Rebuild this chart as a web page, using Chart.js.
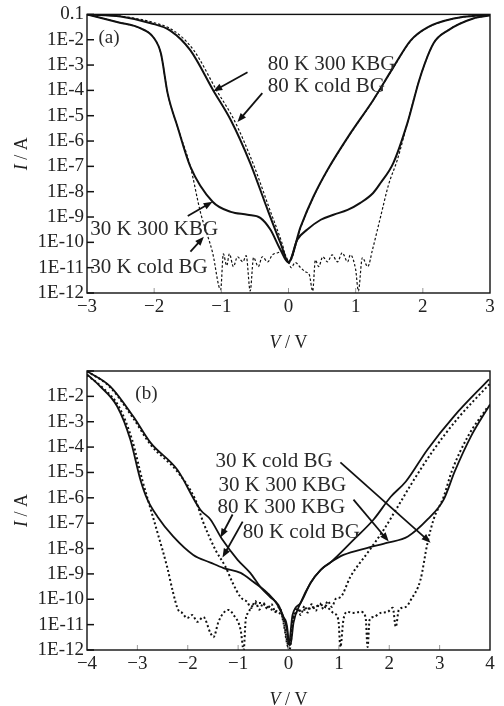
<!DOCTYPE html>
<html>
<head>
<meta charset="utf-8">
<script src="https://cdn.jsdelivr.net/npm/chart.js@4.4.1/dist/chart.umd.min.js"></script>
<style>
  html, body { margin: 0; padding: 0; background: #fff; }
  #wrap { position: relative; width: 504px; height: 706px; }
  canvas { position: absolute; left: 0; }
</style>
</head>
<body>
<div id="wrap">
  <canvas id="chartA" width="504" height="353" style="top:0"></canvas>
  <canvas id="chartB" width="504" height="353" style="top:353px"></canvas>
</div>
<script>
// ---- шкалы ----
const yTicks = [1e-1, 1e-2, 1e-3, 1e-4, 1e-5, 1e-6, 1e-7, 1e-8, 1e-9, 1e-10, 1e-11, 1e-12]
const yTickLabelsA = ["0.1", "1E-2", "1E-3", "1E-4", "1E-5", "1E-6", "1E-7", "1E-8", "1E-9", "1E-10", "1E-11", "1E-12"]
const yTickLabelsB = ["", "1E-2", "1E-3", "1E-4", "1E-5", "1E-6", "1E-7", "1E-8", "1E-9", "1E-10", "1E-11", "1E-12"]
const xTicksA = [-3, -2, -1, 0, 1, 2, 3]
const xTickLabelsA = ["\u22123", "\u22122", "\u22121", "0", "1", "2", "3"]
const xTicksB = [-4, -3, -2, -1, 0, 1, 2, 3, 4]
const xTickLabelsB = ["\u22124", "\u22123", "\u22122", "\u22121", "0", "1", "2", "3", "4"]

// ---- панель (a) ----
const aV80Hot = [-3, -2.5, -2.05, -1.76, -1.46, -1.12, -0.86, -0.57, -0.31, -0.12, 0, 0.18, 0.37, 0.58, 0.92, 1.26, 1.56, 1.82, 2.07, 2.46, 3]
const aI80Hot = [1e-1, 8.3e-2, 4.5e-2, 2.3e-2, 3.8e-3, 1.0e-4, 6.8e-6, 1.35e-7, 1.9e-9, 9.5e-11, 1.7e-11, 4.1e-10, 6.3e-9, 7.2e-8, 2.0e-6, 4.1e-5, 8.1e-4, 9.5e-3, 3.1e-2, 6.9e-2, 1e-1]

const aV80Cold = [-3, -2.5, -2.0, -1.71, -1.41, -1.07, -0.81, -0.53, -0.28, -0.1, 0, 0.18, 0.37, 0.58, 0.92, 1.26, 1.56, 1.82, 2.07, 2.46, 3]
const aI80Cold = [1e-1, 8.5e-2, 4.7e-2, 2.3e-2, 3.8e-3, 1.0e-4, 6.8e-6, 1.35e-7, 2.0e-9, 1.0e-10, 1.5e-11, 3.8e-10, 6.0e-9, 7.0e-8, 1.9e-6, 4.0e-5, 7.8e-4, 9.0e-3, 3.0e-2, 6.8e-2, 1e-1]

const aV30Hot = [-3, -2.54, -2.2, -2.01, -1.9, -1.8, -1.65, -1.46, -1.13, -0.86, -0.61, -0.42, -0.27, -0.12, 0, 0.13, 0.28, 0.48, 0.67, 0.88, 1.07, 1.26, 1.37, 1.56, 1.77, 1.96, 2.16, 2.37, 2.75, 3]
const aI30Hot = [1e-1, 4.9e-2, 2.8e-2, 1.23e-2, 2.9e-3, 7.8e-5, 3.5e-6, 9.5e-8, 4.0e-9, 1.6e-9, 1.23e-9, 9.3e-10, 3.2e-10, 5.1e-11, 1.6e-11, 1.26e-10, 3.2e-10, 7.8e-10, 1.23e-9, 1.9e-9, 3.6e-9, 8.9e-9, 2.2e-8, 1.35e-7, 5.1e-6, 3.3e-4, 7.2e-3, 2.3e-2, 6.9e-2, 9.1e-2]

const aV30Cold = [-3, -2.54, -2.2, -2.01, -1.9, -1.8, -1.65, -1.46, -1.31, -1.13, -1.01, -0.97, -0.92, -0.88, -0.82, -0.76, -0.68, -0.63, -0.57, -0.52, -0.45, -0.39, -0.31, -0.24, -0.16, -0.09, 0, 0.04, 0.1, 0.18, 0.25, 0.31, 0.36, 0.40, 0.45, 0.51, 0.58, 0.65, 0.73, 0.80, 0.88, 0.92, 1.0, 1.04, 1.10, 1.18, 1.25, 1.37, 1.49, 1.62, 1.77, 1.96, 2.16, 2.37, 2.75, 3]
const aI30Cold = [1e-1, 4.9e-2, 2.8e-2, 1.23e-2, 2.9e-3, 7.8e-5, 3.5e-6, 9.5e-8, 1.5e-9, 3.9e-11, 1.35e-12, 3.5e-11, 1.2e-11, 3.5e-11, 1.1e-11, 2.7e-11, 1.7e-11, 3.0e-11, 1.2e-12, 2.5e-11, 1.1e-11, 2.7e-11, 1.7e-11, 3.2e-11, 3.9e-11, 4.3e-11, 1.7e-11, 1.0e-11, 1.6e-11, 1.0e-11, 6.9e-12, 5.2e-12, 1.2e-12, 2.0e-11, 1.1e-11, 2.7e-11, 1.7e-11, 3.2e-11, 1.7e-11, 3.9e-11, 1.7e-11, 3.2e-11, 8.3e-12, 1.2e-12, 2.5e-11, 1.1e-11, 5.1e-11, 1.0e-9, 1.9e-8, 1.8e-7, 5.1e-6, 3.3e-4, 7.2e-3, 2.3e-2, 6.9e-2, 9.1e-2]

// ---- панель (b) ----
const bV80Hot = [-4, -3.54, -3.08, -2.74, -2.21, -1.75, -1.55, -1.31, -1.01, -0.76, -0.56, -0.36, -0.2, -0.1, -0.02, 0, 0.08, 0.24, 0.44, 0.64, 0.83, 1.29, 1.69, 2.03, 2.33, 2.76, 3.28, 3.98]
const bI80Hot = [9.8e-2, 2.5e-2, 1.6e-3, 1.5e-4, 1.3e-5, 3.4e-7, 1.4e-7, 2.2e-8, 3.6e-9, 1.1e-9, 3.1e-10, 1.2e-10, 6.0e-11, 2.0e-11, 6.2e-12, 1.3e-12, 2.4e-11, 7.2e-11, 4.5e-10, 1.45e-9, 2.8e-9, 2.2e-8, 1.4e-7, 1.1e-6, 4.4e-6, 8.1e-5, 1.6e-3, 4.7e-2]

const bV80Cold = [-4, -3.54, -3.08, -2.74, -2.21, -1.85, -1.69, -1.45, -1.25, -1.11, -0.95, -0.82, -0.74, -0.66, -0.58, -0.5, -0.42, -0.34, -0.26, -0.18, -0.1, 0, 0.1, 0.18, 0.24, 0.32, 0.38, 0.46, 0.54, 0.62, 0.7, 0.78, 0.86, 0.94, 1.03, 1.23, 1.57, 1.89, 2.17, 2.43, 2.86, 3.36, 4.0]
const bI80Cold = [9.8e-2, 2.3e-2, 1.35e-3, 1.26e-4, 1.1e-5, 8.5e-7, 1.05e-7, 8.9e-9, 1.9e-9, 4.5e-10, 1.2e-10, 7.9e-11, 4.5e-11, 8.5e-11, 3.9e-11, 7.2e-11, 4.2e-11, 6.5e-11, 3.2e-11, 5.0e-11, 1.2e-11, 1.3e-12, 2.0e-11, 4.5e-11, 2.4e-11, 5.5e-11, 3.0e-11, 6.3e-11, 3.5e-11, 7.0e-11, 4.0e-11, 8.5e-11, 5.0e-11, 1.05e-10, 1.2e-10, 7.8e-10, 6.8e-9, 5.5e-8, 4.5e-7, 3.3e-6, 6.8e-5, 1.35e-3, 3.2e-2]

const bV30Hot = [-4, -3.74, -3.40, -3.14, -2.94, -2.80, -2.60, -2.29, -1.89, -1.55, -1.29, -0.95, -0.70, -0.42, -0.22, -0.06, 0.04, 0.10, 0.24, 0.44, 0.64, 0.83, 1.09, 1.57, 1.97, 2.37, 2.76, 3.08, 3.30, 3.62, 4.0]
const bI30Hot = [7.4e-2, 2.5e-2, 4.0e-3, 2.0e-4, 5.2e-6, 8.5e-7, 1.8e-7, 3.0e-8, 5.6e-9, 2.8e-9, 1.7e-9, 1.1e-9, 4.9e-10, 1.8e-10, 6.0e-11, 1.2e-11, 1.6e-12, 1.2e-11, 7.2e-11, 4.5e-10, 1.45e-9, 2.8e-9, 5.6e-9, 1.07e-8, 1.7e-8, 3.0e-8, 1.4e-7, 8.5e-7, 1.1e-5, 2.6e-4, 4.8e-3]

const bV30Cold = [-4, -3.70, -3.36, -3.10, -2.90, -2.78, -2.60, -2.41, -2.29, -2.19, -2.11, -2.01, -1.91, -1.81, -1.69, -1.55, -1.49, -1.39, -1.29, -1.19, -1.09, -0.95, -0.89, -0.85, -0.80, -0.70, -0.56, -0.42, -0.26, -0.12, -0.02, 0.02, 0.10, 0.30, 0.50, 0.70, 0.89, 0.99, 1.03, 1.09, 1.17, 1.29, 1.43, 1.53, 1.57, 1.61, 1.69, 1.83, 1.97, 2.07, 2.13, 2.19, 2.33, 2.43, 2.62, 2.76, 2.88, 3.08, 3.24, 3.56, 3.96]
const bI30Cold = [6.8e-2, 2.3e-2, 3.7e-3, 1.8e-4, 4.8e-6, 7.1e-7, 4.2e-8, 1.9e-9, 1.8e-10, 3.8e-11, 2.9e-11, 1.8e-11, 2.4e-11, 1.3e-11, 2.0e-11, 4.7e-12, 3.2e-12, 1.3e-11, 2.9e-11, 3.8e-11, 2.4e-11, 6.2e-12, 1.0e-12, 1.55e-11, 2.9e-11, 6.0e-11, 7.2e-11, 5.0e-11, 3.2e-11, 2.0e-11, 1.9e-12, 1.0e-12, 2.0e-11, 3.8e-11, 5.0e-11, 6.0e-11, 2.9e-11, 1.55e-11, 1.3e-12, 1.55e-11, 3.2e-11, 2.9e-11, 3.2e-11, 2.0e-11, 1.3e-12, 1.55e-11, 2.0e-11, 2.9e-11, 3.2e-11, 4.6e-11, 8.1e-12, 3.8e-11, 5.0e-11, 9.5e-11, 5.9e-10, 1.7e-8, 1.4e-7, 1.1e-6, 1.1e-5, 2.6e-4, 4.0e-3]

// подписи и стрелки (в координатах данных)
const notesA = {
  panel: { text: "(a)", x: -2.83, y: 7.2e-3 },
  labels: [
    { text: "80 K 300 KBG", x: -0.31, y: 6.3e-4 },
    { text: "80 K cold BG", x: -0.31, y: 8.5e-5 },
    { text: "30 K 300 KBG", x: -2.95, y: 2.0e-10 },
    { text: "30 K cold BG", x: -2.95, y: 6.3e-12 }
  ],
  arrows: [
    { from: [-0.61, 5.2e-4], to: [-1.12, 9.3e-5] },
    { from: [-0.39, 7.8e-5], to: [-0.76, 5.6e-6] },
    { from: [-1.50, 1.1e-9], to: [-1.13, 4.0e-9] },
    { from: [-1.46, 4.3e-11], to: [-1.26, 1.66e-10] }
  ]
}
const notesB = {
  panel: { text: "(b)", x: -3.04, y: 7.6e-3 },
  labels: [
    { text: "30 K cold BG", x: -1.45, y: 1.7e-5 },
    { text: "30 K 300 KBG", x: -1.39, y: 1.9e-6 },
    { text: "80 K 300 KBG", x: -1.41, y: 2.6e-7 },
    { text: "80 K cold BG", x: -0.91, y: 2.7e-8 }
  ],
  arrows: [
    { from: [-1.11, 2.2e-7], to: [-1.35, 2.7e-8] },
    { from: [-0.91, 1.15e-7], to: [-1.31, 4.4e-9] },
    { from: [1.03, 2.5e-5], to: [2.82, 1.7e-8] },
    { from: [1.29, 8.5e-7], to: [1.99, 1.9e-8] }
  ]
}

const SERIF = "'Liberation Serif', 'Times New Roman', serif"

function pts(xs, ys) {
  return xs.map((v, i) => ({ x: v, y: ys[i] }))
}

function solid(xs, ys, w) {
  return { data: pts(xs, ys), borderColor: "#111", borderWidth: w, pointRadius: 0, cubicInterpolationMode: "monotone" }
}

function dotted(xs, ys, w, dash) {
  return { data: pts(xs, ys), borderColor: "#111", borderWidth: w, borderDash: dash, pointRadius: 0, cubicInterpolationMode: "monotone" }
}

// текст с курсивной первой буквой, центрированный
function drawMixed(ctx, parts, cx, cy) {
  let total = 0
  parts.forEach(p => {
    ctx.font = (p.italic ? "italic " : "") + "18px " + SERIF
    p.w = ctx.measureText(p.t).width
    total += p.w
  })
  let x = cx - total / 2
  ctx.textAlign = "left"
  ctx.textBaseline = "middle"
  parts.forEach(p => {
    ctx.font = (p.italic ? "italic " : "") + "18px " + SERIF
    ctx.fillText(p.t, x, cy)
    x += p.w
  })
}

function drawArrow(ctx, x1, y1, x2, y2) {
  const ang = Math.atan2(y2 - y1, x2 - x1)
  const len = 9, half = 3.5
  ctx.beginPath()
  ctx.moveTo(x1, y1)
  ctx.lineTo(x2 - Math.cos(ang) * len * 0.8, y2 - Math.sin(ang) * len * 0.8)
  ctx.stroke()
  ctx.beginPath()
  ctx.moveTo(x2, y2)
  ctx.lineTo(x2 - Math.cos(ang) * len - Math.sin(ang) * half, y2 - Math.sin(ang) * len + Math.cos(ang) * half)
  ctx.lineTo(x2 - Math.cos(ang) * len + Math.sin(ang) * half, y2 - Math.sin(ang) * len - Math.cos(ang) * half)
  ctx.closePath()
  ctx.fill()
}

const paperPlugin = {
  id: "paper",
  afterDraw(chart, args, opts) {
    const { ctx, chartArea: a } = chart
    const x = chart.scales.x, y = chart.scales.y
    ctx.save()

    // внутренние риски оси Y
    ctx.strokeStyle = "#111"
    ctx.lineWidth = 1.5
    yTicks.forEach(v => {
      const py = y.getPixelForValue(v)
      ctx.beginPath()
      ctx.moveTo(a.left, py)
      ctx.lineTo(a.left + 7, py)
      ctx.stroke()
    })

    // внутренние риски оси X (бледные)
    ctx.strokeStyle = "#999"
    ctx.lineWidth = 1
    opts.xTicks.slice(1, -1).forEach(v => {
      const px = x.getPixelForValue(v)
      ctx.beginPath()
      ctx.moveTo(px, a.bottom)
      ctx.lineTo(px, a.bottom - 5)
      ctx.stroke()
    })

    // рамка
    ctx.strokeStyle = "#111"
    ctx.lineWidth = 1.4
    ctx.strokeRect(a.left, a.top, a.right - a.left, a.bottom - a.top)

    // подписи осей
    ctx.fillStyle = "#222"
    drawMixed(ctx, [{ t: "V", italic: true }, { t: " / V" }], (a.left + a.right) / 2, a.bottom + 50)
    ctx.save()
    ctx.translate(22, (a.top + a.bottom) / 2)
    ctx.rotate(-Math.PI / 2)
    drawMixed(ctx, [{ t: "I", italic: true }, { t: " / A" }], 0, 0)
    ctx.restore()

    // аннотации
    const n = opts.notes
    ctx.textAlign = "left"
    ctx.textBaseline = "alphabetic"
    ctx.fillStyle = "#2a2a2a"
    ctx.font = "19px " + SERIF
    ctx.fillText(n.panel.text, x.getPixelForValue(n.panel.x), y.getPixelForValue(n.panel.y))
    ctx.font = "21px " + SERIF
    n.labels.forEach(l => {
      ctx.fillText(l.text, x.getPixelForValue(l.x), y.getPixelForValue(l.y))
    })
    ctx.strokeStyle = "#111"
    ctx.fillStyle = "#111"
    ctx.lineWidth = 1.8
    n.arrows.forEach(ar => {
      drawArrow(ctx,
        x.getPixelForValue(ar.from[0]), y.getPixelForValue(ar.from[1]),
        x.getPixelForValue(ar.to[0]), y.getPixelForValue(ar.to[1]))
    })
    ctx.restore()
  }
}

function makeChart(id, cfg) {
  return new Chart(document.getElementById(id), {
    type: "line",
    data: { datasets: cfg.datasets },
    plugins: [paperPlugin],
    options: {
      responsive: false,
      animation: false,
      events: [],
      layout: { padding: { left: 0, right: 14, top: cfg.top, bottom: 0 } },
      plugins: {
        legend: { display: false },
        tooltip: { enabled: false },
        paper: { xTicks: cfg.xTicks, notes: cfg.notes }
      },
      scales: {
        x: {
          type: "linear",
          min: cfg.xTicks[0],
          max: cfg.xTicks[cfg.xTicks.length - 1],
          grid: { display: false, drawTicks: false },
          border: { display: false },
          afterBuildTicks: s => { s.ticks = cfg.xTicks.map(v => ({ value: v })) },
          afterFit: s => { s.height = cfg.xHeight },
          ticks: {
            autoSkip: false,
            maxRotation: 0,
            padding: 3,
            color: "#222",
            font: { family: SERIF, size: 19 },
            callback: (v, i) => cfg.xLabels[i]
          }
        },
        y: {
          type: "logarithmic",
          min: 1e-12,
          max: 1e-1,
          grid: { display: false, drawTicks: false },
          border: { display: false },
          afterBuildTicks: s => { s.ticks = yTicks.map(v => ({ value: v })) },
          afterFit: s => { s.width = 87 },
          ticks: {
            autoSkip: false,
            padding: 3,
            color: "#222",
            font: { family: SERIF, size: 19 },
            callback: (v, i) => cfg.yLabels[i]
          }
        }
      }
    }
  })
}

makeChart("chartA", {
  top: 14,
  xHeight: 60,
  xTicks: xTicksA,
  xLabels: xTickLabelsA,
  yLabels: yTickLabelsA,
  notes: notesA,
  datasets: [
    dotted(aV80Cold, aI80Cold, 1.2, [2.5, 2]),
    dotted(aV30Cold, aI30Cold, 1.2, [2.5, 2]),
    solid(aV80Hot, aI80Hot, 2),
    solid(aV30Hot, aI30Hot, 2)
  ]
})

makeChart("chartB", {
  top: 18,
  xHeight: 56,
  xTicks: xTicksB,
  xLabels: xTickLabelsB,
  yLabels: yTickLabelsB,
  notes: notesB,
  datasets: [
    dotted(bV80Cold, bI80Cold, 2, [2, 2.5]),
    dotted(bV30Cold, bI30Cold, 2, [2, 2.5]),
    solid(bV80Hot, bI80Hot, 1.8),
    solid(bV30Hot, bI30Hot, 1.8)
  ]
})
</script>
</body>
</html>
